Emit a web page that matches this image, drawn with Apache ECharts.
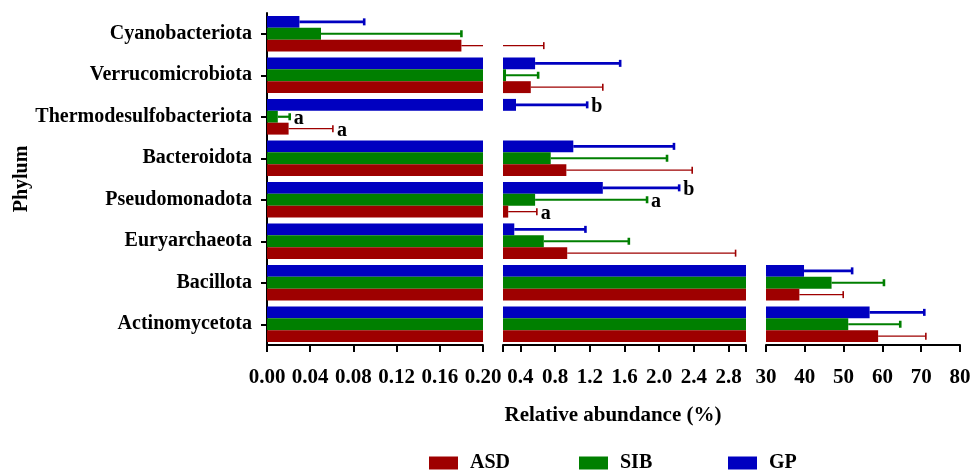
<!DOCTYPE html>
<html><head><meta charset="utf-8">
<script src="https://cdn.jsdelivr.net/npm/echarts@6/dist/echarts.min.js"></script>
<style>html,body{margin:0;padding:0;background:#fff}#c{width:977px;height:475px}</style>
</head><body><div id="c"></div>
<script>
// ---- data (categories listed top to bottom) ----
const categories = ['Cyanobacteriota','Verrucomicrobiota','Thermodesulfobacteriota','Bacteroidota','Pseudomonadota','Euryarchaeota','Bacillota','Actinomycetota'];
const groupNames = ['ASD','SIB','GP'];
const meanASD = [0.18, 0.52, 0.02, 0.93, 0.26, 0.94, 38.6, 58.9];
const errASD  = [0.49, 0.83, 0.041, 1.45, 0.33, 1.94, 11.3, 12.3];
const meanSIB = [0.05, 0.235, 0.01, 0.75, 0.57, 0.67, 46.9, 51.2];
const errSIB  = [0.13, 0.37, 0.011, 1.34, 1.29, 0.98, 13.5, 13.4];
const meanGP  = [0.03, 0.57, 0.35, 1.01, 1.35, 0.33, 39.8, 56.7];
const errGP   = [0.06, 0.98, 0.82, 1.16, 0.88, 0.82, 12.4, 14.1];
const sigASD = ['', '', 'a', '', 'a', '', '', ''];
const sigSIB = ['', '', 'a', '', 'a', '', '', ''];
const sigGP  = ['', '', 'b', '', 'b', '', '', ''];
const seg1Ticks = [0, 0.04, 0.08, 0.12, 0.16, 0.20];
const seg2Ticks = [0.4, 0.8, 1.2, 1.6, 2.0, 2.4, 2.8];
const seg3Ticks = [30, 40, 50, 60, 70, 80];
const xTitle = 'Relative abundance (%)';
const yTitle = 'Phylum';

// ---- styling / layout ----
const FONT = "'Liberation Serif','Times New Roman',serif";
const colors = {ASD:'#9E0000', SIB:'#007F00', GP:'#0000C0'};
const errWidth = {ASD:1.3, SIB:2.2, GP:2.6};
const groups = {
  ASD:{mean:meanASD, err:errASD, sig:sigASD},
  SIB:{mean:meanSIB, err:errSIB, sig:sigSIB},
  GP:{mean:meanGP, err:errGP, sig:sigGP}
};
const topToBottom = ['GP','SIB','ASD'];
const GAP = 0.14;
const segs = [
  {min:0, max:0.2, left:267, width:216, labels:seg1Ticks, ticks:seg1Ticks, dec:2, interval:0.04},
  {min:0.2, max:3.0, left:503, width:243, labels:seg2Ticks, ticks:[0.2].concat(seg2Ticks,[3.0]), dec:1, interval:0.4},
  {min:30, max:80, left:766, width:194, labels:seg3Ticks, ticks:seg3Ticks, dec:0, interval:10}
];
const TOP = 13, HEIGHT = 332;

const grid = [], xAxis = [], yAxis = [], series = [];
segs.forEach((s, gi) => {
  grid.push({left:s.left, width:s.width, top:TOP, height:HEIGHT, containLabel:false});
  xAxis.push({
    type:'value', gridIndex:gi, min:s.min, max:s.max, interval:s.interval,
    axisLine:{show:true, lineStyle:{color:'#000', width:2}},
    axisTick:{show:true, length:7, lineStyle:{color:'#000', width:2}, customValues:s.ticks},
    axisLabel:{color:'#000', fontFamily:FONT, fontWeight:'bold', fontSize:21, margin:22,
      customValues:s.labels, formatter:v => Number(v).toFixed(s.dec)},
    splitLine:{show:false}
  });
  yAxis.push({
    type:'category', gridIndex:gi, data:categories, inverse:true,
    show: gi === 0,
    axisLine:{show:gi===0, lineStyle:{color:'#000', width:2}},
    axisTick:{show:gi===0, length:6, alignWithLabel:true, lineStyle:{color:'#000', width:2}},
    axisLabel:{show:gi===0, color:'#000', fontFamily:FONT, fontWeight:'bold', fontSize:20, margin:15},
    name: gi===0 ? yTitle : '', nameLocation:'middle', nameGap:233, nameRotate:90,
    nameTextStyle:{color:'#000', fontFamily:FONT, fontWeight:'bold', fontSize:20}
  });
  topToBottom.forEach(name => {
    const g = groups[name];
    series.push({
      type:'bar', name:name, xAxisIndex:gi, yAxisIndex:gi, clip:true,
      barGap:'0%', barCategoryGap:(GAP*100)+'%',
      itemStyle:{color:colors[name]},
      data:g.mean.map(v => v > s.min ? Math.min(v, s.max) : '-'),
      z:2
    });
  });
  // error bars
  const edata = [];
  topToBottom.forEach((name, k) => {
    const g = groups[name];
    g.mean.forEach((m, ci) => edata.push([ci, k, m, g.err[ci], name, g.sig[ci]]));
  });
  series.push({
    type:'custom', name:'err'+gi, xAxisIndex:gi, yAxisIndex:gi, z:5,
    data:edata, silent:true,
    renderItem:(params, api) => {
      const d = edata[params.dataIndex];
      const ci = d[0], k = d[1], m = d[2], e = d[3], name = d[4], sig = d[5];
      const hi = m + e;
      const lo = Math.max(m, s.min), up = Math.min(hi, s.max);
      if (!(up > lo)) return null;
      const p1 = api.coord([lo, ci]), p2 = api.coord([up, ci]);
      const band = api.size([0, 1])[1];
      const bw = band * (1 - GAP) / 3;
      const y = p1[1] - 1.5 * bw + (k + 0.5) * bw;
      const st = {stroke:colors[name], lineWidth:errWidth[name], lineCap:'butt'};
      const children = [{type:'line', shape:{x1:p1[0], y1:y, x2:p2[0], y2:y}, style:st}];
      if (hi <= s.max) {
        children.push({type:'line', shape:{x1:p2[0], y1:y-3.5, x2:p2[0], y2:y+3.5},
          style:{stroke:colors[name], lineWidth:name==='ASD'?1.6:2.6}});
        if (sig) {
          children.push({type:'text', x:p2[0]+4, y:y+2,
            style:{text:sig, fill:'#000', fontFamily:FONT, fontWeight:'bold', fontSize:20,
              align:'left', verticalAlign:'middle'}});
        }
      }
      return {type:'group', children:children};
    }
  });
});

const legendPos = [424, 574, 723];
const legend = groupNames.map((n, i) => ({
  data:[n], left:legendPos[i], top:448, itemWidth:29, itemHeight:13, icon:'rect',
  selectedMode:false,
  textStyle:{color:'#000', fontFamily:FONT, fontWeight:'bold', fontSize:20, padding:[0,0,0,7]}
}));

const chart = echarts.init(document.getElementById('c'), null, {renderer:'canvas'});
chart.setOption({
  animation:false,
  backgroundColor:'#fff',
  grid, xAxis, yAxis, series, legend,
  graphic:[{type:'text', x:613, y:416,
    style:{text:xTitle, fill:'#000', fontFamily:FONT, fontWeight:'bold', fontSize:21, align:'center', verticalAlign:'middle'}}]
});
</script></body></html>
